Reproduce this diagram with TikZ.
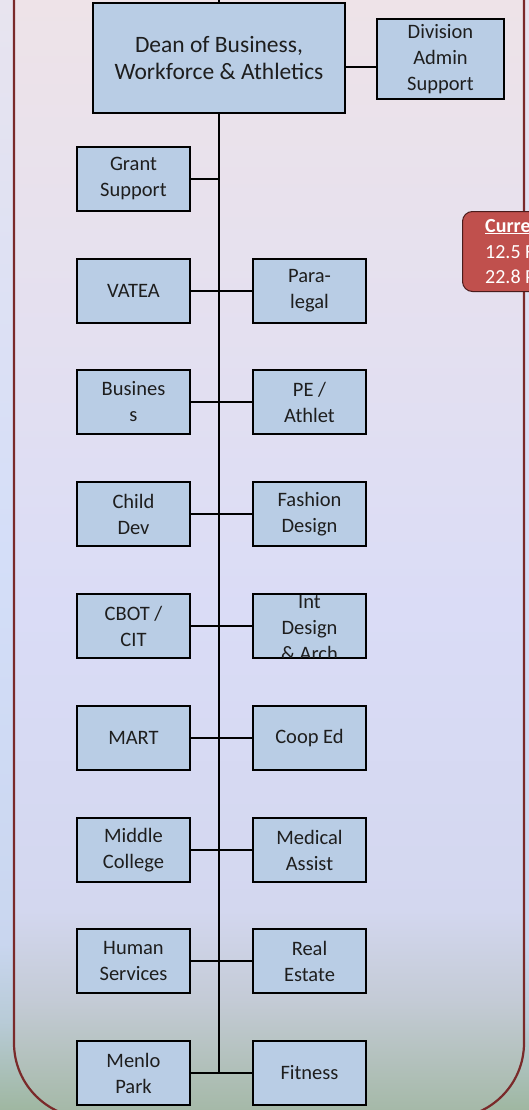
\documentclass[tikz,border=0pt]{standalone}
\usepackage{fontspec}
\setmainfont{Carlito}
\usetikzlibrary{calc}
\definecolor{boxblue}{HTML}{B9CDE5}
\definecolor{txtdark}{HTML}{1E1E1E}
\definecolor{frameline}{HTML}{7A2A2A}
\definecolor{curred}{HTML}{C0504D}
\definecolor{curline}{HTML}{4A1C1C}
\definecolor{pgA}{HTML}{9FB7A1}
\definecolor{pgB}{HTML}{B8CBD7}
\definecolor{pgC}{HTML}{C9D6EF}
\definecolor{pgD}{HTML}{D4DEF8}
\definecolor{pgE}{HTML}{E8E4EF}
\definecolor{inA}{HTML}{A5B9A8}
\definecolor{inB}{HTML}{C4CBD6}
\definecolor{inC}{HTML}{D3D7EF}
\definecolor{inD}{HTML}{DADCF6}
\definecolor{inE}{HTML}{E4E0F0}
\definecolor{inF}{HTML}{EEE3E8}
\pgfdeclareverticalshading{bgpage}{100bp}{color(0bp)=(pgA); color(25bp)=(pgA); color(29bp)=(pgB); color(32.5bp)=(pgC); color(50bp)=(pgD); color(75bp)=(pgE); color(100bp)=(pgE)}
\pgfdeclareverticalshading{bginner}{100bp}{color(0bp)=(inA); color(25bp)=(inA); color(30bp)=(inB); color(34bp)=(inC); color(47.5bp)=(inD); color(60bp)=(inE); color(75bp)=(inF); color(100bp)=(inF)}
\tikzset{
  obox/.style={draw=black, line width=1.6pt, fill=boxblue, minimum width=113pt, minimum height=64pt,
    inner sep=0pt, align=center, text=txtdark, font=\fontsize{20.5}{26}\selectfont},
  deanbox/.style={obox, minimum width=252pt, minimum height=110pt, font=\fontsize{23.5}{27}\selectfont},
  divbox/.style={obox, minimum width=127pt, minimum height=80pt},
  conn/.style={draw=black, line width=1.6pt},
  curtext/.style={anchor=base west, inner sep=0pt, text=white, font=\fontsize{20}{25}\selectfont}
}
\begin{document}
\begin{tikzpicture}[x=1pt,y=-1pt]
\useasboundingbox (0,0) rectangle (529,1110);
\clip (0,0) rectangle (529,1110);
% backgrounds
\shade[shading=bgpage] (0,0) rectangle (529,1110);
\begin{scope}
  \clip[rounded corners=75pt] (14,-200) rectangle (524,1118);
  \shade[shading=bginner] (0,0) rectangle (529,1110);
\end{scope}
\draw[frameline, line width=2.2pt, rounded corners=75pt] (14,-200) rectangle (524,1118);

% top nodes
\node[deanbox] (dean) at (219,58) {Dean of Business,\\Workforce \& Athletics};
\node[divbox] (div) at (440.5,59) {Division\\Admin\\Support};
\coordinate (ptop) at (219,0);
\coordinate (divy) at (0,67);

% left column
\node[obox] (grant)  at (133.5,179)  {Grant\\Support};
\node[obox] (vatea)  at (133.5,291)  {VATEA};
\node[obox] (busi)   at (133.5,402)  {Busines\\s};
\node[obox] (child)  at (133.5,514)  {Child\\Dev};
\node[obox] (cbot)   at (133.5,626)  {CBOT /\\CIT};
\node[obox] (mart)   at (133.5,738)  {MART};
\node[obox] (middle) at (133.5,850)  {Middle\\College};
\node[obox] (human)  at (133.5,961)  {Human\\Services};
\node[obox] (menlo)  at (133.5,1073) {Menlo\\Park};

% right column
\node[obox] (para)    at (309.5,291)  {Para-\\legal};
\node[obox] (pe)      at (309.5,402)  {PE /\\Athlet};
\node[obox] (fashion) at (309.5,514)  {Fashion\\Design};
\node[obox] (intd)    at (309.5,626)  {};
\begin{scope}
  \clip ($(intd.south west)+(1,-1)$) rectangle ($(intd.north east)+(-1,1)$);
  \node[align=center, text=txtdark, inner sep=0pt, font=\fontsize{20.5}{26}\selectfont] (intdtxt) at (309.5,628) {Int\\Design\\\& Arch};
\end{scope}
\node[obox] (coop)    at (309.5,738)  {Coop Ed};
\node[obox] (medical) at (309.5,850)  {Medical\\Assist};
\node[obox] (realest) at (309.5,961)  {Real\\Estate};
\node[obox] (fitness) at (309.5,1073) {Fitness};

% connectors
\draw[conn] (ptop) -- (dean.north);
\draw[conn] (dean.east |- divy) -- (div.west |- divy);
\draw[conn] (dean.south) -- (menlo.east -| dean.south);
\draw[conn] (grant.east) -- (grant.east -| dean.south);
\draw[conn] (vatea.east) -- (para.west);
\draw[conn] (busi.east) -- (pe.west);
\draw[conn] (child.east) -- (fashion.west);
\draw[conn] (cbot.east) -- (intd.west);
\draw[conn] (mart.east) -- (coop.west);
\draw[conn] (middle.east) -- (medical.west);
\draw[conn] (human.east) -- (realest.west);
\draw[conn] (menlo.east) -- (fitness.west);

% current box (cut by the page edge, as in the reference)
\node[draw=curline, line width=1pt, fill=curred, rounded corners=10pt, minimum width=140pt, minimum height=80pt, anchor=north west, inner sep=0pt] (cur) at (462,211) {};
\node[curtext] (cur1) at (485,232) {\textbf{\underline{Current}}};
\node[curtext] (cur2) at (485,258) {12.5 FT};
\node[curtext] (cur3) at (485,283) {22.8 PT};
\end{tikzpicture}
\end{document}
